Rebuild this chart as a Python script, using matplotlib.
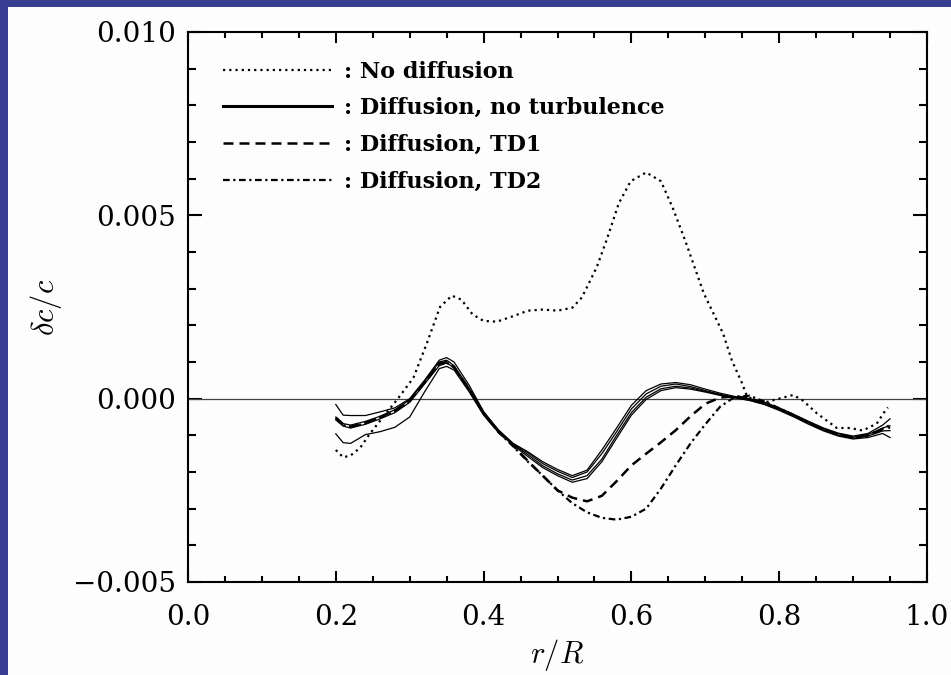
import numpy as np
import matplotlib.pyplot as plt
from matplotlib.lines import Line2D
from matplotlib.patches import Rectangle
from matplotlib.ticker import MultipleLocator, FuncFormatter

# radius grid shared by the diffusion models
r = [0.20, 0.21, 0.22, 0.24, 0.26, 0.28, 0.30, 0.32, 0.34, 0.35, 0.36, 0.38, 0.40, 0.42,
     0.44, 0.46, 0.48, 0.50, 0.52, 0.54, 0.56, 0.58, 0.60, 0.62, 0.64, 0.66, 0.68, 0.70,
     0.72, 0.74, 0.76, 0.78, 0.80, 0.82, 0.84, 0.86, 0.88, 0.90, 0.92, 0.94, 0.95]

# dc/c in units of 1e-3
diff_a = [-0.16, -0.45, -0.46, -0.46, -0.36, -0.25, 0.00, 0.50, 1.05, 1.12, 1.00, 0.38, -0.35, -0.85,
          -1.22, -1.45, -1.72, -1.93, -2.10, -1.95, -1.40, -0.80, -0.18, 0.22, 0.40, 0.44, 0.38, 0.26,
          0.15, 0.06, 0.00, -0.10, -0.25, -0.43, -0.62, -0.80, -0.94, -1.02, -0.95, -0.72, -0.55]
diff_b = [-0.50, -0.68, -0.72, -0.62, -0.48, -0.30, -0.03, 0.46, 1.00, 1.05, 0.90, 0.30, -0.38, -0.86,
          -1.23, -1.48, -1.77, -1.98, -2.15, -2.00, -1.50, -0.90, -0.28, 0.13, 0.34, 0.40, 0.33, 0.22,
          0.12, 0.04, -0.02, -0.12, -0.27, -0.45, -0.64, -0.82, -0.96, -1.05, -0.98, -0.80, -0.74]
diff_c = [-0.58, -0.75, -0.80, -0.70, -0.55, -0.38, -0.10, 0.40, 0.90, 0.97, 0.85, 0.25, -0.42, -0.90,
          -1.25, -1.53, -1.83, -2.05, -2.22, -2.10, -1.65, -1.00, -0.38, 0.04, 0.27, 0.34, 0.29, 0.20,
          0.10, 0.03, -0.04, -0.15, -0.30, -0.48, -0.67, -0.85, -1.00, -1.08, -1.02, -0.88, -0.87]
diff_d = [-0.96, -1.20, -1.22, -0.98, -0.90, -0.78, -0.50, 0.18, 0.82, 0.88, 0.78, 0.20, -0.45, -0.92,
          -1.27, -1.58, -1.88, -2.10, -2.28, -2.18, -1.72, -1.08, -0.45, -0.02, 0.22, 0.30, 0.26, 0.18,
          0.09, 0.02, -0.05, -0.16, -0.32, -0.50, -0.70, -0.88, -1.02, -1.10, -1.06, -0.95, -1.06]
td1 = [-0.52, -0.70, -0.76, -0.66, -0.50, -0.33, -0.06, 0.44, 0.96, 1.00, 0.86, 0.27, -0.40, -0.90,
       -1.28, -1.70, -2.10, -2.50, -2.70, -2.80, -2.65, -2.25, -1.82, -1.50, -1.19, -0.86, -0.48, -0.14,
       0.03, 0.06, 0.01, -0.12, -0.28, -0.46, -0.66, -0.84, -0.98, -1.06, -1.00, -0.85, -0.78]
td2 = [-0.54, -0.72, -0.78, -0.67, -0.51, -0.34, -0.07, 0.43, 0.95, 0.99, 0.85, 0.26, -0.41, -0.91,
       -1.30, -1.72, -2.10, -2.50, -2.85, -3.10, -3.25, -3.30, -3.22, -3.00, -2.45, -1.82, -1.22, -0.70,
       -0.22, 0.05, 0.08, -0.08, -0.26, -0.45, -0.65, -0.83, -0.97, -1.06, -1.00, -0.82, -0.72]

# no diffusion model
nd_r = [0.200, 0.210, 0.220, 0.233, 0.246, 0.264, 0.284, 0.305, 0.323, 0.341, 0.357, 0.370, 0.385,
        0.400, 0.418, 0.440, 0.460, 0.480, 0.500, 0.520, 0.533, 0.553, 0.566, 0.583, 0.599, 0.620,
        0.640, 0.656, 0.673, 0.698, 0.724, 0.736, 0.750, 0.756, 0.770, 0.778, 0.805, 0.819, 0.832,
        0.851, 0.878, 0.896, 0.913, 0.932, 0.941, 0.947]
nd = [-1.40, -1.60, -1.55, -1.34, -0.96, -0.50, 0.00, 0.57, 1.50, 2.50, 2.81, 2.70, 2.30,
      2.12, 2.10, 2.25, 2.40, 2.43, 2.40, 2.48, 2.76, 3.58, 4.30, 5.33, 5.93, 6.17,
      5.93, 5.20, 4.30, 2.87, 1.78, 1.04, 0.41, 0.08, -0.10, -0.12, 0.03, 0.10, -0.05,
      -0.40, -0.80, -0.80, -0.87, -0.68, -0.40, -0.24]

labels = [': No diffusion', ': Diffusion, no turbulence', ': Diffusion, TD1', ': Diffusion, TD2']

plt.rcParams['font.family'] = 'DejaVu Serif'
plt.rcParams['mathtext.fontset'] = 'cm'

W, H = 951, 675
fig = plt.figure(figsize=(W / 100, H / 100), dpi=100, facecolor='#3a3e92')
fig.patches.append(Rectangle((8 / W, 0), 1, 1 - 7 / H, transform=fig.transFigure,
                             facecolor='#fdfdfd', edgecolor='none', zorder=-10))

ax = fig.add_axes([188 / W, 1 - 582 / H, (927 - 188) / W, (582 - 32) / H])
ax.set_facecolor('none')

dot = (0, (1, 1.8))
dash = (0, (4, 2.4))
dashdot = (0, (3, 1.6, 1, 1.6))

ax.axhline(0, color='#444444', lw=0.9)
s = 1e-3
ax.plot(nd_r, np.array(nd) * s, color='k', lw=1.6, linestyle=dot)
for y in (diff_a, diff_b, diff_c, diff_d):
    ax.plot(r, np.array(y) * s, color='k', lw=0.9)
ax.plot(r, np.array(td1) * s, color='k', lw=1.8, linestyle=dash)
ax.plot(r, np.array(td2) * s, color='k', lw=1.6, linestyle=dashdot)

ax.set_xlim(0, 1)
ax.set_ylim(-0.005, 0.010)
ax.xaxis.set_major_locator(MultipleLocator(0.2))
ax.xaxis.set_minor_locator(MultipleLocator(0.05))
ax.yaxis.set_major_locator(MultipleLocator(0.005))
ax.yaxis.set_minor_locator(MultipleLocator(0.001))
ax.xaxis.set_major_formatter(FuncFormatter(lambda v, p: f'{v:.1f}'))
ax.yaxis.set_major_formatter(FuncFormatter(
    lambda v, p: f'{v:.3f}'.replace('-', '\u2212') if abs(v) > 1e-9 else '0.000'))

ax.tick_params(which='both', direction='in', top=True, right=True, width=1.5, labelsize=20)
ax.tick_params(axis='x', which='major', length=8, pad=16)
ax.tick_params(axis='x', which='minor', length=4.5)
ax.tick_params(axis='y', which='major', length=10, pad=9)
ax.tick_params(axis='y', which='minor', length=5.5)
for sp in ax.spines.values():
    sp.set_linewidth(1.5)

ax.set_xlabel(r'$r/R$', fontsize=22, labelpad=4)
ax.set_ylabel(r'$\delta c/c$', fontsize=22, labelpad=6)

handles = [Line2D([], [], color='k', lw=1.6, linestyle=dot),
           Line2D([], [], color='k', lw=2.2),
           Line2D([], [], color='k', lw=1.8, linestyle=dash),
           Line2D([], [], color='k', lw=1.6, linestyle=dashdot)]
ax.legend(handles, labels, loc='upper left', bbox_to_anchor=(0.047, 0.948), frameon=False,
          handlelength=4.9, handletextpad=0.55, labelspacing=0.66, borderpad=0, borderaxespad=0,
          prop={'weight': 'bold', 'size': 16})

fig.savefig('out.png', dpi=100, facecolor=fig.get_facecolor())
